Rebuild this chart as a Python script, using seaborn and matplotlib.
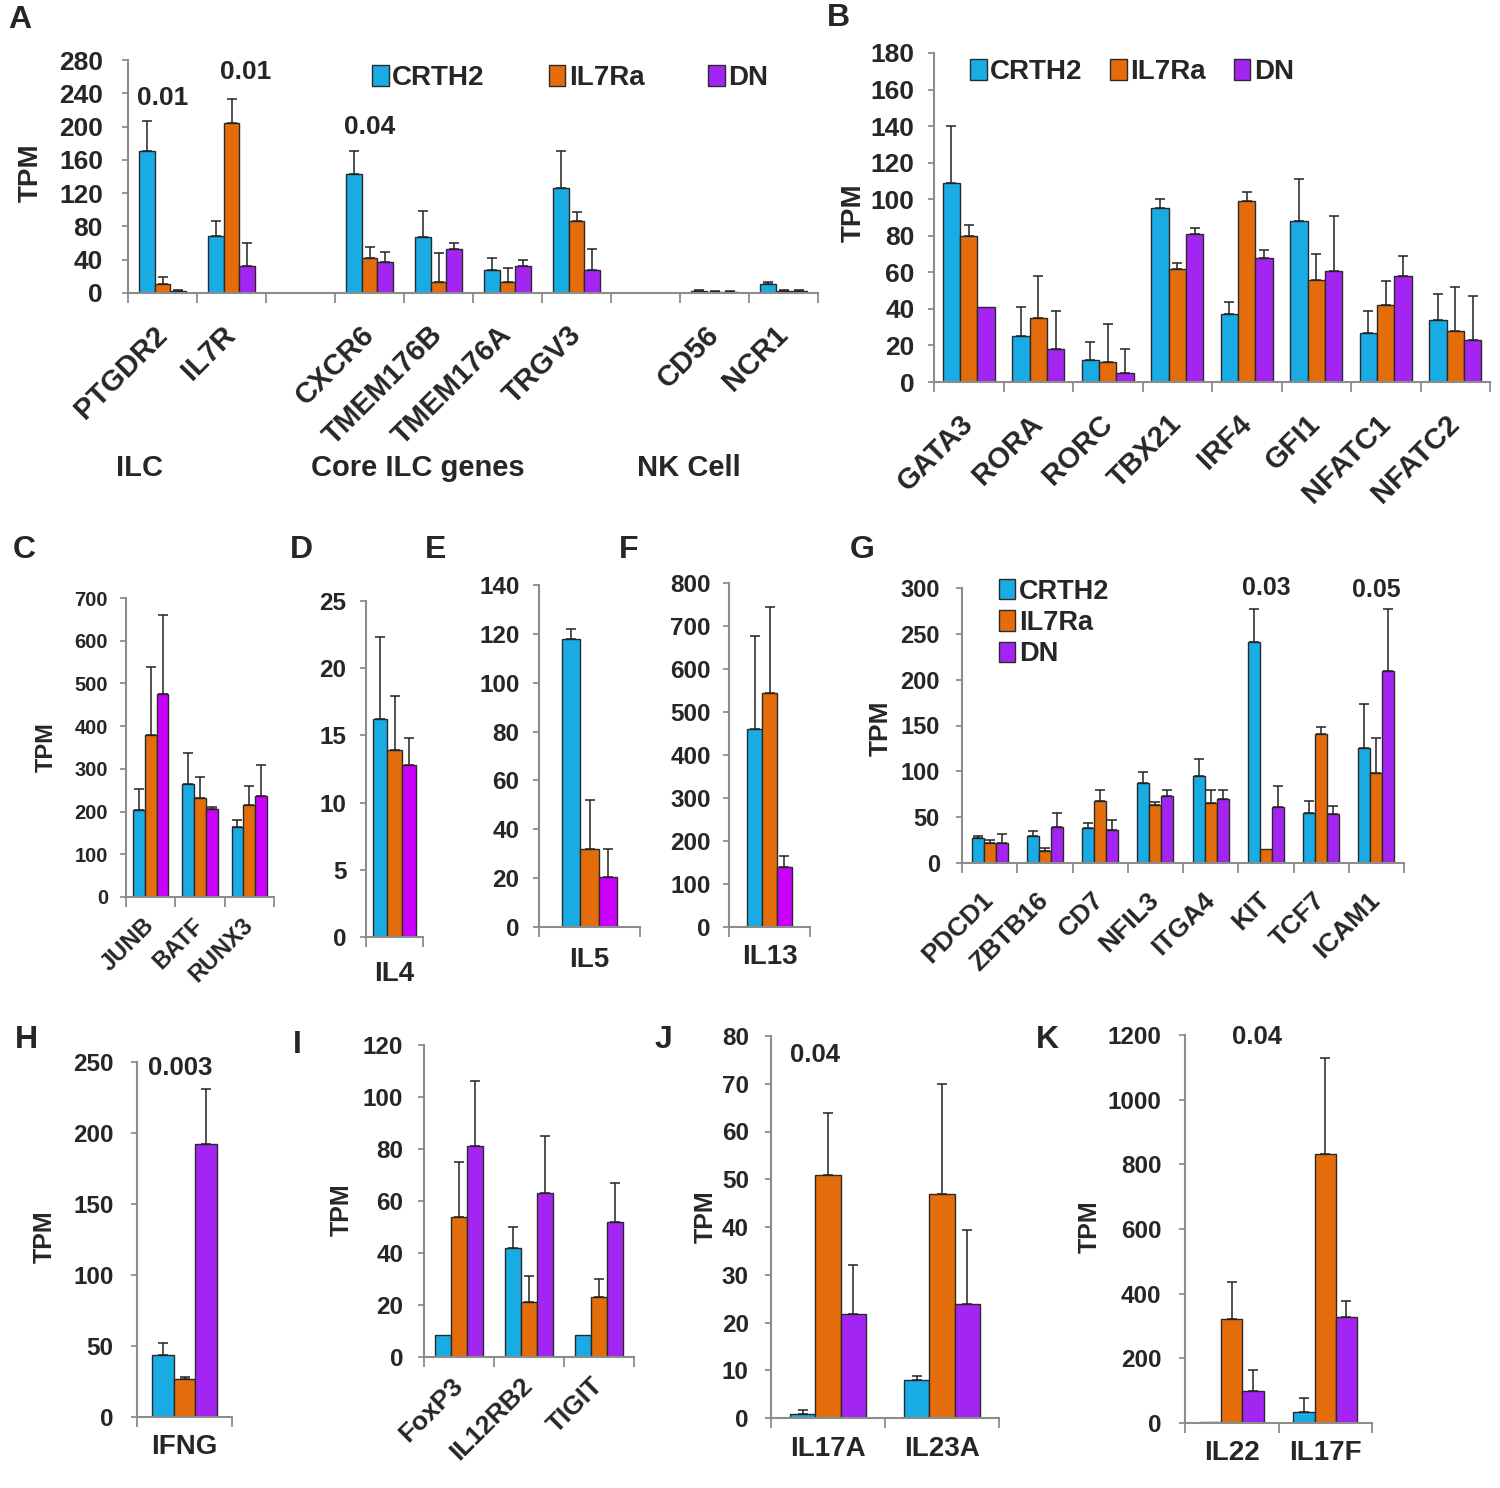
import matplotlib
matplotlib.use("Agg")
import matplotlib.pyplot as plt
import seaborn as sns
import pandas as pd
import numpy as np
from matplotlib.patches import Patch

sns.set_theme(style="white")
plt.rcParams['font.family'] = ['Liberation Sans', 'DejaVu Sans']
plt.rcParams['font.weight'] = 'bold'

groups = ["CRTH2", "IL7Ra", "DN"]
BLUE, ORANGE, PURPLE, MAGENTA = "#19ABE3", "#E46C0A", "#A424F2", "#CC00FF"
GRAY = "#8c8c8c"

# A - marker genes (mean TPM and SD)
genes_a = ["PTGDR2", "IL7R", "CXCR6", "TMEM176B", "TMEM176A", "TRGV3", "CD56", "NCR1"]
order_a = ["PTGDR2", "IL7R", " ", "CXCR6", "TMEM176B", "TMEM176A", "TRGV3", "  ", "CD56", "NCR1"]
crth2_a = [171, 68, 143, 67, 28, 126, 3, 11]
il7ra_a = [11, 204, 42, 13, 13, 86, 1, 3]
dn_a = [3, 32, 37, 53, 32, 28, 1, 3]
crth2_a_sd = [36, 18, 28, 32, 14, 45, 1, 2]
il7ra_a_sd = [8, 29, 13, 35, 17, 11, 1, 1]
dn_a_sd = [1, 28, 12, 7, 8, 25, 1, 1]

# B - transcription factors
genes_b = ["GATA3", "RORA", "RORC", "TBX21", "IRF4", "GFI1", "NFATC1", "NFATC2"]
crth2_b = [109, 25, 12, 95, 37, 88, 27, 34]
il7ra_b = [80, 35, 11, 62, 99, 56, 42, 28]
dn_b = [41, 18, 5, 81, 68, 61, 58, 23]
crth2_b_sd = [31, 16, 10, 5, 7, 23, 12, 14]
il7ra_b_sd = [6, 23, 21, 3, 5, 14, 13, 24]
dn_b_sd = [0, 21, 13, 3, 4, 30, 11, 24]

# C
genes_c = ["JUNB", "BATF", "RUNX3"]
crth2_c = [203, 264, 164]
il7ra_c = [379, 231, 215]
dn_c = [475, 206, 237]
crth2_c_sd = [49, 74, 17]
il7ra_c_sd = [160, 49, 46]
dn_c_sd = [186, 5, 73]

# D, E, F - type 2 cytokines
crth2_d, il7ra_d, dn_d = [16.2], [13.9], [12.8]
crth2_d_sd, il7ra_d_sd, dn_d_sd = [6.1], [4.0], [2.0]
crth2_e, il7ra_e, dn_e = [118], [32], [20.5]
crth2_e_sd, il7ra_e_sd, dn_e_sd = [4], [20], [11.5]
crth2_f, il7ra_f, dn_f = [460], [544], [140]
crth2_f_sd, il7ra_f_sd, dn_f_sd = [217], [200], [25]

# G
genes_g = ["PDCD1", "ZBTB16", "CD7", "NFIL3", "ITGA4", "KIT", "TCF7", "ICAM1"]
crth2_g = [27, 30, 38, 87, 95, 241, 55, 125]
il7ra_g = [22, 13, 68, 63, 66, 15, 141, 98]
dn_g = [22, 39, 36, 73, 70, 61, 53, 209]
crth2_g_sd = [3, 5, 6, 12, 19, 36, 13, 49]
il7ra_g_sd = [3, 3, 12, 4, 14, 0, 7, 38]
dn_g_sd = [10, 16, 11, 7, 10, 23, 9, 68]

# H
crth2_h, il7ra_h, dn_h = [44], [27], [192]
crth2_h_sd, il7ra_h_sd, dn_h_sd = [8], [1], [39]

# I
genes_i = ["FoxP3", "IL12RB2", "TIGIT"]
crth2_i = [8.6, 42, 8.6]
il7ra_i = [54, 21, 23]
dn_i = [81, 63, 52]
crth2_i_sd = [0, 8, 0]
il7ra_i_sd = [21, 10, 7]
dn_i_sd = [25, 22, 15]

# J
genes_j = ["IL17A", "IL23A"]
crth2_j = [0.9, 8]
il7ra_j = [50.8, 47]
dn_j = [21.8, 23.9]
crth2_j_sd = [0.7, 0.9]
il7ra_j_sd = [13, 23]
dn_j_sd = [10.2, 15.4]

# K
genes_k = ["IL22", "IL17F"]
crth2_k = [3, 34]
il7ra_k = [321, 831]
dn_k = [99, 328]
crth2_k_sd = [0, 43]
il7ra_k_sd = [116, 297]
dn_k_sd = [66, 50]

W, H = 1500, 1488
fig = plt.figure(figsize=(15, 14.88), dpi=100)


def make_ax(l, t, r, b):
    return fig.add_axes([l / W, 1 - b / H, (r - l) / W, (b - t) / H])


def long_df(genes, c, i, d, sc, si, sd):
    rows = []
    for vals, sds, g in ((c, sc, "CRTH2"), (i, si, "IL7Ra"), (d, sd, "DN")):
        for gene, v, s in zip(genes, vals, sds):
            rows.append({"gene": gene, "group": g, "value": v, "sd": s})
    return pd.DataFrame(rows)


def panel(box, genes, c, i, d, sc, si, sd, ymax, step, order=None, width=0.7,
          purple=PURPLE, fs=17, xfs=19, rot=45, pad=14, ypad=9):
    ax = make_ax(*box)
    order = order or genes
    df = long_df(genes, c, i, d, sc, si, sd)
    sns.barplot(data=df, x="gene", y="value", hue="group", order=order,
                hue_order=groups, palette=[BLUE, ORANGE, purple], width=width,
                saturation=1, edgecolor="#2a2a2a", linewidth=1.0, errorbar=None,
                legend=False, ax=ax)
    # upper error bars only
    for cont, g in zip(ax.containers, groups):
        for bar in cont:
            xc = bar.get_x() + bar.get_width() / 2
            gene = order[int(round(xc))]
            s = df[(df.gene == gene) & (df.group == g)]["sd"].iloc[0]
            if s > 0:
                ax.errorbar(xc, bar.get_height(), yerr=[[0], [s]], fmt="none",
                            ecolor="#222222", elinewidth=1.1, capsize=3.5,
                            capthick=1.1)
    n = len(order)
    ax.set_xlim(-0.5, n - 0.5)
    ax.set_ylim(0, ymax)
    ax.set_yticks(np.arange(0, ymax + step / 2, step))
    ax.set_xticks(np.arange(-0.5, n, 1), minor=True)
    ax.set_xticks(range(n))
    if rot:
        ax.set_xticklabels(order, rotation=rot, ha="right", va="center",
                           rotation_mode="anchor")
    else:
        ax.set_xticklabels(order)
    ax.tick_params(axis="x", which="major", length=0, pad=pad, labelsize=xfs)
    ax.tick_params(axis="x", which="minor", length=7, width=1.3, color=GRAY,
                   direction="out", bottom=True)
    ax.tick_params(axis="y", length=4, width=1.3, color=GRAY, direction="out",
                   labelsize=fs, pad=ypad, left=True)
    sns.despine(ax=ax)
    for s in ("left", "bottom"):
        ax.spines[s].set_color(GRAY)
        ax.spines[s].set_linewidth(1.5)
    ax.set_xlabel("")
    ax.set_ylabel("")
    ax.patch.set_alpha(0)
    return ax


def legend(ax, anchor, ncol, fs, colspace=2.0, purple=PURPLE):
    handles = [Patch(facecolor=col, edgecolor="#2a2a2a", linewidth=1, label=g)
               for col, g in zip([BLUE, ORANGE, purple], groups)]
    ax.legend(handles=handles, loc="center left", bbox_to_anchor=anchor,
              ncol=ncol, frameon=False, fontsize=fs, handlelength=0.6,
              handleheight=0.8, handletextpad=0.12, columnspacing=colspace,
              labelspacing=0.2, borderpad=0, borderaxespad=0)


def ptext(ax, x, y, s, fs=19):
    ax.text(x, y, s, ha="center", va="center", fontsize=fs,
            fontweight="bold", clip_on=False)


def ftext(x, y, s, fs=18, rot=0):
    fig.text(x / W, 1 - y / H, s, ha="center", va="center", fontsize=fs,
             fontweight="bold", rotation=rot)


# A
ax_a = panel((128, 60, 818, 293), genes_a, crth2_a, il7ra_a, dn_a,
             crth2_a_sd, il7ra_a_sd, dn_a_sd, 280, 40, order=order_a,
             width=0.68, fs=19, xfs=21, pad=27, ypad=14)
legend(ax_a, (0.354, 0.923), 3, 20, colspace=2.3)
ptext(ax_a, 0, 234, "0.01")
ptext(ax_a, 1.2, 266, "0.01")
ptext(ax_a, 3, 200, "0.04")
ftext(140, 468, "ILC", fs=21)
ftext(418, 468, "Core ILC genes", fs=21)
ftext(689, 468, "NK Cell", fs=21)

# B
ax_b = panel((934, 53, 1490, 382), genes_b, crth2_b, il7ra_b, dn_b,
             crth2_b_sd, il7ra_b_sd, dn_b_sd, 180, 20, width=0.75,
             fs=19, xfs=21, pad=27, ypad=10)
legend(ax_b, (0.065, 0.942), 3, 20, colspace=1.0)

# C
panel((126, 598, 274, 897), genes_c, crth2_c, il7ra_c, dn_c,
      crth2_c_sd, il7ra_c_sd, dn_c_sd, 700, 100, width=0.72,
      purple=MAGENTA, fs=14.5, xfs=17, pad=18, ypad=9)

# D, E, F
panel((366, 601, 423, 937), ["IL4"], crth2_d, il7ra_d, dn_d,
      crth2_d_sd, il7ra_d_sd, dn_d_sd, 25, 5, width=0.76,
      purple=MAGENTA, fs=17.5, xfs=20, rot=0, pad=17, ypad=10)
panel((539, 585, 640, 927), ["IL5"], crth2_e, il7ra_e, dn_e,
      crth2_e_sd, il7ra_e_sd, dn_e_sd, 140, 20, width=0.54,
      purple=MAGENTA, fs=17.5, xfs=20, rot=0, pad=14.5, ypad=10)
panel((729, 583, 810, 927), ["IL13"], crth2_f, il7ra_f, dn_f,
      crth2_f_sd, il7ra_f_sd, dn_f_sd, 800, 100, width=0.55,
      purple=MAGENTA, fs=17.5, xfs=20, rot=0, pad=12.5, ypad=9)

# G
ax_g = panel((962, 588, 1404, 863), genes_g, crth2_g, il7ra_g, dn_g,
             crth2_g_sd, il7ra_g_sd, dn_g_sd, 300, 50, width=0.65,
             fs=17, xfs=19, pad=24, ypad=12)
legend(ax_g, (0.084, 0.873), 1, 19.5)
ptext(ax_g, 5, 300, "0.03", fs=18)
ptext(ax_g, 7, 298, "0.05", fs=18)

# H
ax_h = panel((137, 1062, 232, 1417), ["IFNG"], crth2_h, il7ra_h, dn_h,
             crth2_h_sd, il7ra_h_sd, dn_h_sd, 250, 50, width=0.68,
             fs=17.5, xfs=20, rot=0, pad=12.5, ypad=13)
ptext(ax_h, -0.05, 246, "0.003", fs=18.5)

# I
panel((424, 1045, 634, 1357), genes_i, crth2_i, il7ra_i, dn_i,
      crth2_i_sd, il7ra_i_sd, dn_i_sd, 120, 20, width=0.69,
      fs=17.5, xfs=19, pad=18, ypad=11)

# J
ax_j = panel((771, 1036, 999, 1418), genes_j, crth2_j, il7ra_j, dn_j,
             crth2_j_sd, il7ra_j_sd, dn_j_sd, 80, 10, width=0.67,
             fs=17.5, xfs=20, rot=0, pad=13, ypad=12)
ptext(ax_j, -0.11, 76, "0.04", fs=18.5)

# K
ax_k = panel((1185, 1035, 1372, 1423), genes_k, crth2_k, il7ra_k, dn_k,
             crth2_k_sd, il7ra_k_sd, dn_k_sd, 1200, 200, width=0.68,
             fs=17.5, xfs=20, rot=0, pad=12, ypad=13)
ptext(ax_k, 0.27, 1194, "0.04", fs=18.5)

# y-axis titles
for x, y, fs in [(31, 173, 20), (854, 213, 20), (46, 747, 17), (881, 728, 19),
                 (45, 1237, 18), (342, 1210, 18), (706, 1217, 18), (1090, 1227, 18)]:
    ftext(x, y, "TPM", fs=fs, rot=90)

# panel letters
for x, y, s in [(20, 20, "A"), (838, 18, "B"), (24, 550, "C"), (301, 550, "D"),
                (436, 550, "E"), (629, 550, "F"), (862, 550, "G"), (26, 1040, "H"),
                (297, 1045, "I"), (663, 1040, "J"), (1047, 1040, "K")]:
    ftext(x, y, s, fs=23)

fig.savefig("out.png", dpi=100)
